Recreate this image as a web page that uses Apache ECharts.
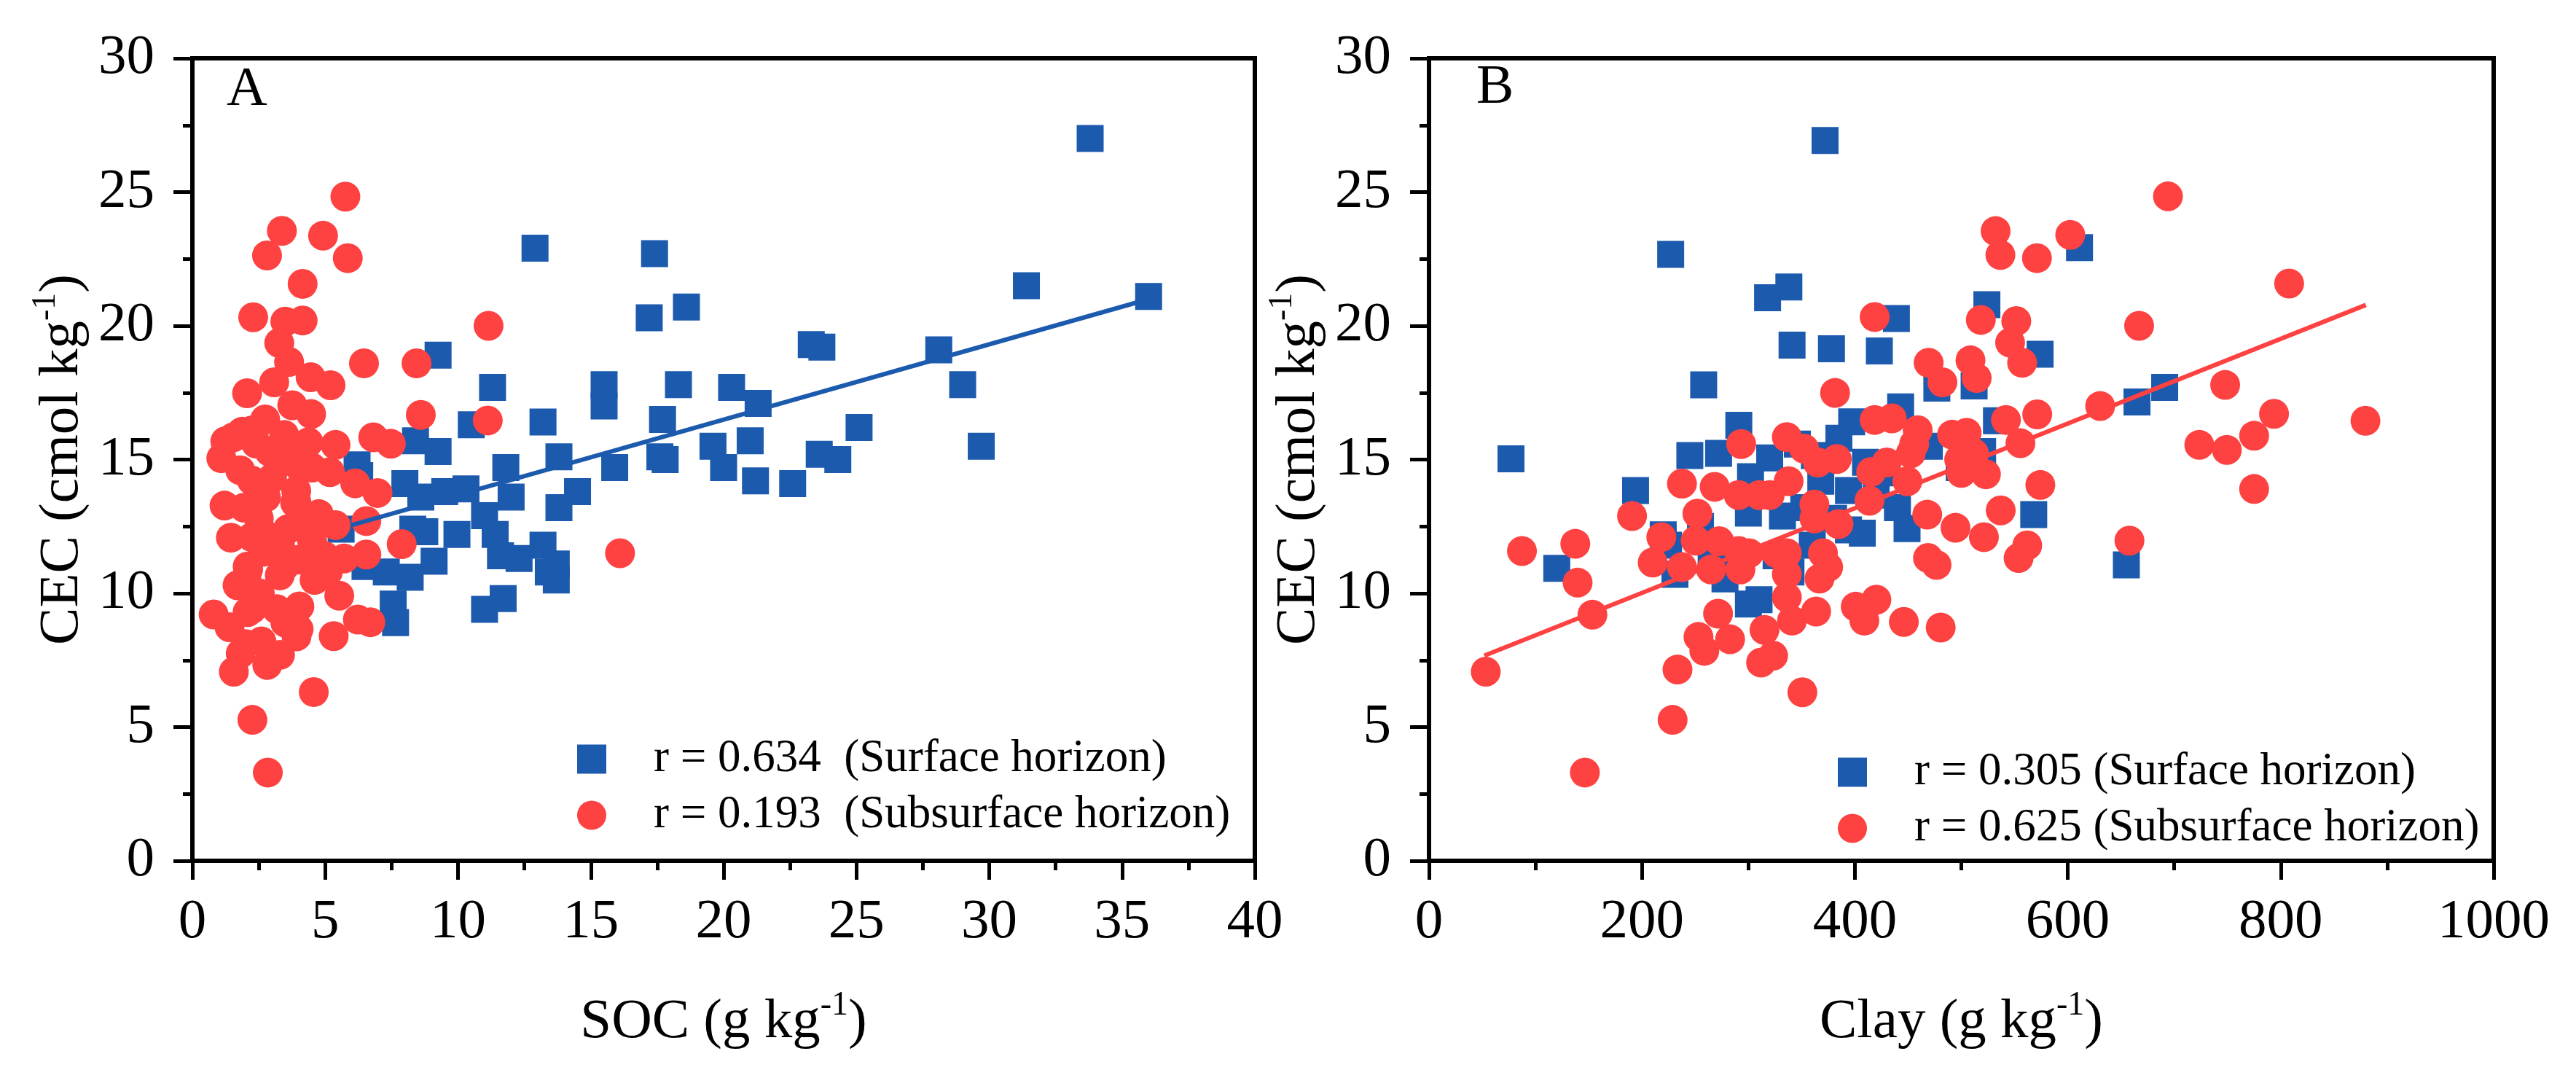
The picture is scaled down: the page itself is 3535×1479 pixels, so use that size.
<!DOCTYPE html>
<html>
<head>
<meta charset="utf-8">
<script src="https://cdn.jsdelivr.net/npm/echarts@6/dist/echarts.min.js"></script>
<style>
html,body{margin:0;padding:0;background:#fff;}
#chart{width:3535px;height:1479px;}
</style>
</head>
<body>
<div id="chart"></div>
<script>
// ---------- DATA ----------
// Panel A: SOC (g/kg) vs CEC (cmol/kg)
const socSurface = [
[33.8,27.0],[36.0,21.1],[31.4,21.5],[12.9,22.9],[17.4,22.7],[18.6,20.7],[17.2,20.3],[9.25,18.9],[11.3,17.7],[15.5,17.8],
[15.5,17.0],[13.2,16.4],[17.7,16.5],[18.3,17.8],[20.3,17.7],[21.3,17.1],[23.3,19.3],[23.7,19.2],[28.1,19.1],[29.0,17.8],
[25.1,16.2],[29.7,15.5],[19.6,15.5],[20.0,14.7],[21.0,15.7],[21.2,14.2],[22.6,14.1],[23.6,15.2],[24.3,15.0],[17.6,15.1],
[17.8,15.0],[15.9,14.7],[13.8,15.1],[11.8,14.7],[12.0,13.6],[10.5,16.3],[9.25,15.3],[8.4,15.7],[8.0,14.1],[6.2,14.8],
[6.3,14.4],[14.5,13.8],[13.8,13.2],[10.3,13.9],[9.5,13.8],[8.6,13.6],[11.0,12.9],[9.96,12.2],[8.75,12.3],[8.3,12.4],
[5.6,12.4],[11.4,12.2],[13.2,11.8],[13.7,11.1],[12.3,11.3],[11.6,11.4],[13.4,10.8],[13.7,10.5],[9.1,11.2],[8.2,10.6],
[7.3,10.8],[6.5,11.0],[11.7,9.8],[11.0,9.4],[7.56,9.6],[7.65,8.9]
];
const socSubsurface = [
[5.76,24.83],[3.37,23.55],[4.92,23.37],[2.81,22.63],[5.85,22.53],[4.15,21.57],[2.29,20.32],[3.5,20.16],[4.15,20.2],[11.15,20.0],
[3.27,19.36],[3.64,18.65],[6.46,18.6],[8.44,18.6],[4.45,18.08],[5.2,17.78],[3.08,17.89],[2.06,17.48],[3.76,17.03],[4.47,16.7],
[8.6,16.67],[11.12,16.46],[2.74,16.5],[1.87,16.04],[5.39,15.55],[6.81,15.83],[7.47,15.59],[1.24,15.68],[1.09,15.05],[3.24,14.84],
[4.02,14.74],[4.5,14.7],[5.18,14.53],[6.13,14.11],[6.97,13.75],[1.21,13.28],[2.24,14.22],[2.77,13.59],[3.87,13.38],[4.76,12.96],
[5.39,12.55],[6.55,12.7],[7.88,11.84],[1.45,12.08],[2.24,12.1],[6.55,11.45],[5.71,11.3],[4.97,11.4],[16.1,11.5],[0.8,9.21],
[1.56,7.07],[2.26,5.27],[2.84,3.3],[4.57,6.31],[2.82,7.32],[3.92,8.39],[5.32,8.4],[6.23,9.02],[6.7,8.92],[5.53,9.91],
[4.03,9.51],[3.18,9.41],[2.24,9.41],[1.4,8.73],[1.82,7.75],[4.03,11.26],[3.29,10.67],[2.03,10.57],[2.1,10.9],[2.66,11.55],
[3.92,13.4],[1.54,15.83],[2.27,16.1],[3.46,15.92],[4.37,15.65],[2.91,15.29],[1.95,13.2],[2.72,12.2],[2.08,11.0],[3.46,11.0],
[2.54,9.99],[2.08,9.3],[4.0,8.66],[3.91,13.83],[3.0,14.3],[3.6,12.4],[2.5,12.8],[3.3,11.8],[4.5,12.0],[1.8,14.6],
[2.6,8.2],[3.5,8.9],[3.3,7.7],[2.0,8.1],[4.6,10.5],[5.1,10.8],[1.7,10.3],[3.9,15.2],[2.4,15.6],[4.2,12.7]
];
const socFitLine = [[6.0,12.55],[35.8,20.94]];

// Panel B: Clay (g/kg) vs CEC (cmol/kg)
const claySurface = [
[372,26.93],[227,22.67],[318,21.05],[338,21.45],[341,19.28],[378,19.14],[423,19.06],[439,20.27],[258,17.79],[291,16.28],
[77,15.03],[245,15.15],[272,15.23],[194,13.84],[120,10.93],[220,12.19],[231,10.71],[477,17.67],[443,16.97],[397,16.41],
[346,15.58],[362,15.15],[302,14.36],[320,15.06],[368,14.19],[394,13.84],[420,13.67],[332,12.89],[394,12.37],[407,12.25],
[449,12.42],[278,10.54],[326,11.4],[310,9.76],[611,22.92],[524,20.79],[574,18.94],[512,17.75],[533,16.45],[665,17.15],
[691,17.7],[568,12.94],[655,11.06],[498,14.7],[300,9.6],[352,13.2],[285,11.5],[380,12.8],[430,14.5],[470,15.5],
[255,12.5],[340,10.8],[410,14.9],[360,11.8],[300,13.0],[440,13.2],[265,11.2],[385,15.8],[520,15.3],[225,11.8]
];
const claySubsurface = [
[418.6,20.33],[469.3,18.62],[482.2,17.89],[381.4,17.49],[418.6,16.48],[434.7,16.54],[459,16.1],[455.7,15.58],[491.3,15.93],[293.2,15.58],
[336.1,15.84],[352.3,15.41],[365.2,14.89],[383,15.02],[415.3,14.54],[429.9,14.89],[449.3,14.19],[452.5,15.23],[494.5,12.45],[468,12.94],
[413.7,13.46],[384.6,12.59],[362,13.32],[362,12.8],[337.8,14.19],[320,13.67],[310.3,13.67],[290.9,13.67],[268.3,13.98],[237.6,14.1],
[252.1,12.98],[190.7,12.89],[137.4,11.85],[87.3,11.58],[139.6,10.4],[153.5,9.2],[53.3,7.07],[146.4,3.3],[228.8,5.27],[233.4,7.15],
[350.7,6.3],[258.6,7.85],[253.1,8.37],[282.8,8.28],[271.5,9.24],[311.9,7.41],[323.2,7.67],[315.1,8.63],[341,8.98],[363.6,9.32],
[336.1,9.85],[400.8,9.5],[420.2,9.76],[408.9,8.98],[446,8.93],[480.6,8.72],[468.7,11.32],[476.7,11.06],[366.8,10.55],[374.9,10.98],
[370,11.5],[336.1,10.71],[336.1,11.5],[292.5,10.89],[290.9,11.58],[265,10.89],[237.6,10.98],[210.1,11.15],[218.2,12.1],[250.5,11.97],
[272.5,11.95],[300.6,11.5],[326.4,11.5],[694.1,24.84],[532.2,23.54],[536.7,22.65],[571,22.53],[602.3,23.4],[807.9,21.58],[518.3,20.22],
[551.6,20.18],[545.8,19.37],[557.1,18.62],[667,20.0],[508.6,18.71],[514.4,18.05],[747.8,17.79],[630.4,17.0],[571.3,16.69],[541.9,16.48],
[555.5,15.61],[793.7,16.71],[879.6,16.45],[775,15.89],[723.5,15.55],[749.4,15.36],[775,13.9],[574.2,14.05],[537,13.1],[521.2,12.1],
[561.9,11.79],[553.8,11.32],[657.9,11.97],[511.8,15.23],[523.1,14.45],[498,15.0],[505,16.0],[500,14.5]
];
const clayFitLine = [[52,7.67],[880,20.78]];

const legendA = ['r = 0.634  (Surface horizon)', 'r = 0.193  (Subsurface horizon)'];
const legendB = ['r = 0.305 (Surface horizon)', 'r = 0.625 (Subsurface horizon)'];
const yTitle = '{t|CEC (cmol kg}{s|-1}{t|)}';
const xTitleA = '{t|SOC (g kg}{s|-1}{t|)}';
const xTitleB = '{t|Clay (g kg}{s|-1}{t|)}';

// ---------- STYLE ----------
const FONT = 'Liberation Serif';
const BLUE = '#1C5AAE';
const RED = '#FE4141';
const rich = {
  t: {fontFamily: FONT, fontSize: 77, color: '#000', lineHeight: 90, verticalAlign: 'bottom'},
  s: {fontFamily: FONT, fontSize: 46, color: '#000', lineHeight: 90, verticalAlign: 'top', padding: [6,0,0,0]}
};

function xAxis(idx, max, interval, title) {
  return {
    type: 'value', gridIndex: idx, min: 0, max: max, interval: interval,
    name: title, nameLocation: 'middle', nameGap: 170,
    nameTextStyle: {rich: rich},
    axisLine: {show: true, onZero: false, lineStyle: {color: '#000', width: 6}},
    axisTick: {show: true, inside: false, length: 26, lineStyle: {color: '#000', width: 5}},
    minorTick: {show: true, splitNumber: 2, length: 13, lineStyle: {color: '#000', width: 5}},
    splitLine: {show: false},
    axisLabel: {fontFamily: FONT, fontSize: 77, color: '#000', margin: 46, formatter: v => String(v)}
  };
}
function yAxis(idx) {
  return {
    type: 'value', gridIndex: idx, min: 0, max: 30, interval: 5,
    name: yTitle, nameLocation: 'middle', nameGap: 140, nameRotate: 90,
    nameTextStyle: {rich: rich},
    axisLine: {show: true, onZero: false, lineStyle: {color: '#000', width: 6}},
    axisTick: {show: true, inside: false, length: 26, lineStyle: {color: '#000', width: 5}},
    minorTick: {show: true, splitNumber: 2, length: 13, lineStyle: {color: '#000', width: 5}},
    splitLine: {show: false},
    axisLabel: {fontFamily: FONT, fontSize: 77, color: '#000', margin: 52, formatter: v => String(v)}
  };
}
function legend(names, left, top) {
  return {
    orient: 'vertical', left: left, top: top, itemWidth: 40, itemHeight: 40, itemGap: 14,
    textStyle: {fontFamily: FONT, fontSize: 63, color: '#000', padding: [0,0,0,60]},
    data: [{name: names[0], icon: 'rect'}, {name: names[1], icon: 'circle'}],
    selectedMode: false
  };
}

const chart = echarts.init(document.getElementById('chart'), null, {renderer: 'canvas'});
chart.setOption({
  animation: false,
  backgroundColor: '#fff',
  textStyle: {fontFamily: FONT},
  grid: [
    {left: 264, top: 80, width: 1458, height: 1101, show: true, borderColor: '#000', borderWidth: 6, backgroundColor: 'transparent'},
    {left: 1961, top: 80, width: 1461, height: 1101, show: true, borderColor: '#000', borderWidth: 6, backgroundColor: 'transparent'}
  ],
  xAxis: [xAxis(0, 40, 5, xTitleA), xAxis(1, 1000, 200, xTitleB)],
  yAxis: [yAxis(0), yAxis(1)],
  legend: [legend(legendA, 787, 1005), legend(legendB, 2517, 1023)],
  graphic: [
    {type: 'text', left: 311, top: 85, style: {text: 'A', font: '77px "Liberation Serif"', fill: '#000'}},
    {type: 'text', left: 2026, top: 82, style: {text: 'B', font: '77px "Liberation Serif"', fill: '#000'}}
  ],
  series: [
    {name: legendA[0], type: 'scatter', xAxisIndex: 0, yAxisIndex: 0, symbol: 'rect', symbolSize: 37,
     itemStyle: {color: BLUE, opacity: 1}, data: socSurface, z: 2},
    {name: legendA[1], type: 'scatter', xAxisIndex: 0, yAxisIndex: 0, symbol: 'circle', symbolSize: 41,
     itemStyle: {color: RED, opacity: 1}, data: socSubsurface, z: 3},
    {name: 'fitA', type: 'line', xAxisIndex: 0, yAxisIndex: 0, data: socFitLine, symbol: 'none',
     lineStyle: {color: BLUE, width: 6}, z: 4},
    {name: legendB[0], type: 'scatter', xAxisIndex: 1, yAxisIndex: 1, symbol: 'rect', symbolSize: 37,
     itemStyle: {color: BLUE, opacity: 1}, data: claySurface, z: 2},
    {name: legendB[1], type: 'scatter', xAxisIndex: 1, yAxisIndex: 1, symbol: 'circle', symbolSize: 41,
     itemStyle: {color: RED, opacity: 1}, data: claySubsurface, z: 3},
    {name: 'fitB', type: 'line', xAxisIndex: 1, yAxisIndex: 1, data: clayFitLine, symbol: 'none',
     lineStyle: {color: RED, width: 6}, z: 4}
  ]
});
</script>
</body>
</html>
